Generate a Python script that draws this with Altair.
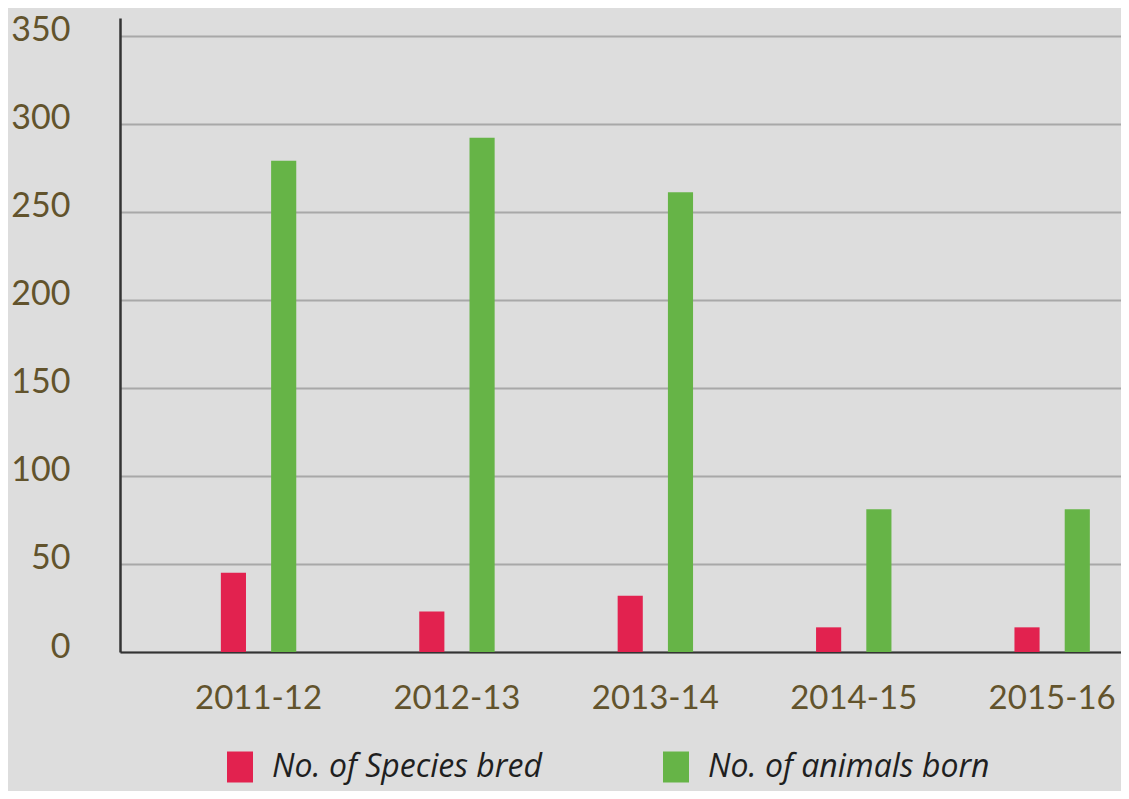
import altair as alt
import pandas as pd

years = ["2011-12", "2012-13", "2013-14", "2014-15", "2015-16"]
species_bred = [45, 23, 32, 14, 14]
animals_born = [279, 292, 261, 81, 81]
series_names = ["No. of Species bred", "No. of animals born"]
series_colors = ["#e2224f", "#66b447"]
y_ticks = [0, 50, 100, 150, 200, 250, 300, 350]

rows = []
for i, yr in enumerate(years):
    rows.append({"year": yr, "series": series_names[0], "value": species_bred[i]})
    rows.append({"year": yr, "series": series_names[1], "value": animals_born[i]})
df = pd.DataFrame(rows)

rect_path = "M-0.84,-1H0.84V1H-0.84Z"

chart = (
    alt.Chart(df)
    .mark_bar()
    .encode(
        x=alt.X(
            "year:N",
            sort=years,
            title=None,
            scale=alt.Scale(paddingInner=0.62, paddingOuter=0.3327, align=0.764),
            axis=alt.Axis(
                labelAngle=0,
                labelFont="Lato",
                labelFontSize=33,
                labelColor="#62532c",
                labelPadding=30,
                labelBaseline="top",
                ticks=False,
                domain=True,
                domainColor="#333333",
                domainWidth=2,
                grid=False,
            ),
        ),
        xOffset=alt.XOffset(
            "series:N",
            sort=series_names,
            scale=alt.Scale(paddingInner=0.5, paddingOuter=0),
        ),
        y=alt.Y(
            "value:Q",
            title=None,
            scale=alt.Scale(domain=[0, 360], nice=False),
            axis=alt.Axis(
                values=y_ticks,
                labelFont="Lato",
                labelFontSize=34,
                labelColor="#62532c",
                labelPadding=50,
                labelOffset=-5,
                ticks=False,
                domain=True,
                domainColor="#333333",
                domainWidth=2.5,
                grid=True,
                gridColor="#a8a8a8",
                gridWidth=2,
            ),
        ),
        color=alt.Color(
            "series:N",
            sort=series_names,
            scale=alt.Scale(domain=series_names, range=series_colors),
            legend=alt.Legend(
                title=None,
                orient="none",
                direction="horizontal",
                legendX=104,
                legendY=733,
                symbolType=rect_path,
                symbolSize=961,
                symbolStrokeWidth=0,
                symbolOpacity=1,
                labelFont="Open Sans",
                labelFontSize=32,
                labelFontStyle="italic",
                labelColor="#1f1f1f",
                labelOffset=16,
                columnPadding=118,
                labelLimit=400,
            ),
        ),
    )
    .properties(
        width=1001,
        height=634,
        autosize=alt.AutoSizeParams(type="none"),
        padding={"left": 112, "top": 10, "right": 0, "bottom": 139},
    )
    .configure(background="#dddddd")
    .configure_view(stroke=None)
)

chart.save("out.html", embed_options={"renderer": "svg", "actions": False})
